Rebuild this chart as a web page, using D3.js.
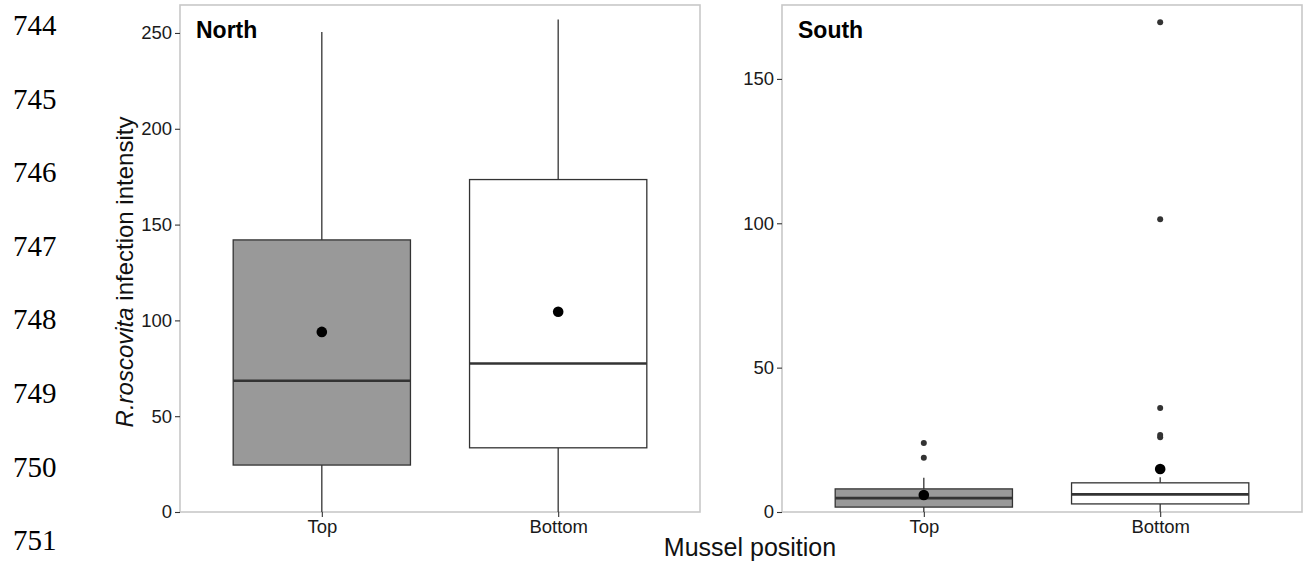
<!DOCTYPE html>
<html>
<head>
<meta charset="utf-8">
<title>Infection intensity</title>
<script src="https://cdn.jsdelivr.net/npm/d3@7"></script>
<style>
  body { margin: 0; background: #fff; }
  svg { display: block; }
</style>
</head>
<body>
<script>
// values
var categories = ["Top", "Bottom"];
var lineNumbers = ["744", "745", "746", "747", "748", "749", "750", "751"];

var northLow = [0, 0];
var northQ1 = [24.5, 33.5];
var northMedian = [68.5, 77.5];
var northQ3 = [142, 173.5];
var northHigh = [250.5, 257];
var northMean = [94, 104.5];
var northOutliers = [[], []];
var northTicks = [0, 50, 100, 150, 200, 250];

var southLow = [0, 0];
var southQ1 = [1.7, 2.8];
var southMedian = [4.8, 6.1];
var southQ3 = [8, 10.1];
var southHigh = [11.9, 12];
var southMean = [5.9, 14.9];
var southOutliers = [[18.8, 23.9], [25.9, 26.7, 36, 101.4, 169.6]];
var southTicks = [0, 50, 100, 150];

var boxFill = ["#999999", "#ffffff"];

var W = 1303, H = 563;
var svg = d3.select("body").append("svg")
  .attr("width", W)
  .attr("height", H);

// manuscript line numbers down the left edge
svg.selectAll("text.lineno")
  .data(lineNumbers)
  .enter()
  .append("text")
  .attr("class", "lineno")
  .attr("x", 13)
  .attr("y", function(d, i){ return 35 + i * 73.6; })
  .attr("font-family", "Liberation Serif, Times New Roman, serif")
  .attr("font-size", 29)
  .attr("fill", "#000")
  .text(function(d){ return d; });

function panel(opts) {
  var g = svg.append("g");
  // ggplot style discrete positions: 1 and 2 on [0.4, 2.6]
  var xp = d3.scaleLinear().domain([0.4, 2.6]).range([opts.left, opts.right]);
  var pos = function(i){ return xp(i + 1); };
  var halfW = xp(1.375) - xp(1);
  var y = d3.scaleLinear().domain(opts.domain).range([opts.bottom, opts.top]);

  // panel border
  g.append("rect")
    .attr("x", opts.left)
    .attr("y", opts.top)
    .attr("width", opts.right - opts.left)
    .attr("height", opts.bottom - opts.top)
    .attr("fill", "none")
    .attr("stroke", "#c8c8c8")
    .attr("stroke-width", 1.6);

  // y axis
  var yAxis = d3.axisLeft(y).tickValues(opts.ticks).tickSize(5).tickPadding(3);
  var ya = g.append("g")
    .attr("transform", "translate(" + opts.left + ",0)")
    .call(yAxis);
  ya.select(".domain").remove();
  ya.selectAll("line").attr("stroke", "#333").attr("stroke-width", 1.1);
  ya.selectAll("text")
    .attr("font-family", "Liberation Sans, Arial, sans-serif")
    .attr("font-size", 18.5)
    .attr("fill", "#1a1a1a");

  // x axis
  var xAxis = d3.axisBottom(xp).tickValues([1, 2])
    .tickFormat(function(d){ return categories[d - 1]; })
    .tickSize(5).tickPadding(3);
  var xa = g.append("g")
    .attr("transform", "translate(0," + opts.bottom + ")")
    .call(xAxis);
  xa.select(".domain").remove();
  xa.selectAll("line").attr("stroke", "#333").attr("stroke-width", 1.1);
  xa.selectAll("text")
    .attr("font-family", "Liberation Sans, Arial, sans-serif")
    .attr("font-size", 18.5)
    .attr("fill", "#1a1a1a");

  var idx = [0, 1];

  // whiskers
  g.selectAll("line.whiskHi").data(idx).enter().append("line")
    .attr("x1", pos).attr("x2", pos)
    .attr("y1", function(i){ return y(opts.q3[i]); })
    .attr("y2", function(i){ return y(opts.high[i]); })
    .attr("stroke", "#333").attr("stroke-width", 1.3);
  g.selectAll("line.whiskLo").data(idx).enter().append("line")
    .attr("x1", pos).attr("x2", pos)
    .attr("y1", function(i){ return y(opts.q1[i]); })
    .attr("y2", function(i){ return y(opts.low[i]); })
    .attr("stroke", "#333").attr("stroke-width", 1.3);

  // boxes
  g.selectAll("rect.box").data(idx).enter().append("rect")
    .attr("x", function(i){ return pos(i) - halfW; })
    .attr("width", 2 * halfW)
    .attr("y", function(i){ return y(opts.q3[i]); })
    .attr("height", function(i){ return y(opts.q1[i]) - y(opts.q3[i]); })
    .attr("fill", function(i){ return boxFill[i]; })
    .attr("stroke", "#333")
    .attr("stroke-width", 1.3);

  // medians
  g.selectAll("line.median").data(idx).enter().append("line")
    .attr("x1", function(i){ return pos(i) - halfW; })
    .attr("x2", function(i){ return pos(i) + halfW; })
    .attr("y1", function(i){ return y(opts.median[i]); })
    .attr("y2", function(i){ return y(opts.median[i]); })
    .attr("stroke", "#333").attr("stroke-width", 2.6);

  // outliers
  idx.forEach(function(i){
    g.selectAll("circle.out" + i).data(opts.outliers[i]).enter().append("circle")
      .attr("cx", pos(i))
      .attr("cy", function(d){ return y(d); })
      .attr("r", 3)
      .attr("fill", "#333");
  });

  // means
  g.selectAll("circle.mean").data(idx).enter().append("circle")
    .attr("cx", pos)
    .attr("cy", function(i){ return y(opts.mean[i]); })
    .attr("r", 5.3)
    .attr("fill", "#000");

  // panel label
  g.append("text")
    .attr("x", opts.left + 16)
    .attr("y", 38)
    .attr("font-family", "Liberation Sans, Arial, sans-serif")
    .attr("font-weight", "bold")
    .attr("font-size", 23)
    .attr("fill", "#000")
    .text(opts.label);
}

panel({
  label: "North", left: 180, right: 700, top: 5, bottom: 512,
  domain: [0, 264.6], ticks: northTicks,
  low: northLow, q1: northQ1, median: northMedian, q3: northQ3,
  high: northHigh, mean: northMean, outliers: northOutliers
});

panel({
  label: "South", left: 782, right: 1302, top: 5, bottom: 512,
  domain: [0, 175.6], ticks: southTicks,
  low: southLow, q1: southQ1, median: southMedian, q3: southQ3,
  high: southHigh, mean: southMean, outliers: southOutliers
});

// y axis title
var yt = svg.append("text")
  .attr("transform", "translate(133,272) rotate(-90)")
  .attr("text-anchor", "middle")
  .attr("font-family", "Liberation Sans, Arial, sans-serif")
  .attr("font-size", 24)
  .attr("fill", "#111");
yt.append("tspan").attr("font-style", "italic").text("R.roscovita");
yt.append("tspan").text(" infection intensity");

// x axis title
svg.append("text")
  .attr("x", 750)
  .attr("y", 556)
  .attr("text-anchor", "middle")
  .attr("font-family", "Liberation Sans, Arial, sans-serif")
  .attr("font-size", 25)
  .attr("fill", "#111")
  .text("Mussel position");
</script>
</body>
</html>
